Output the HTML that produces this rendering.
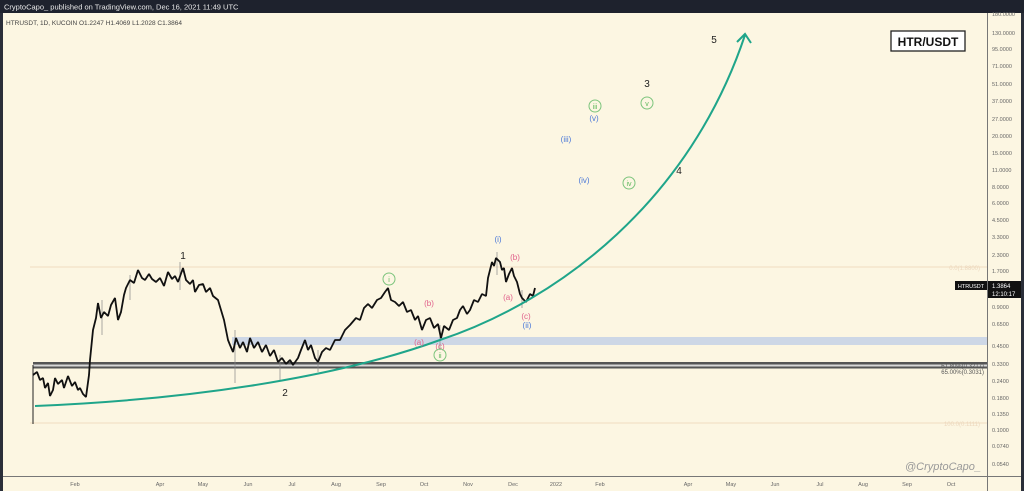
<!DOCTYPE html>
<html><head><meta charset="utf-8"><style>
html,body{margin:0;padding:0;width:1024px;height:491px;overflow:hidden;background:#fcf6e2;}
svg{display:block;font-family:"Liberation Sans",sans-serif;}
</style></head><body>
<svg width="1024" height="491" viewBox="0 0 1024 491" xmlns="http://www.w3.org/2000/svg">
<rect x="0" y="0" width="1024" height="491" fill="#fcf6e2"/>
<rect x="0" y="0" width="1024" height="13" fill="#1e222d"/>
<text x="4" y="9.5" font-size="7.5" fill="#e8e8e8">CryptoCapo_ published on TradingView.com, Dec 16, 2021 11:49 UTC</text>
<rect x="0" y="13" width="3" height="478" fill="#2a2e39"/>
<rect x="1021" y="13" width="3" height="478" fill="#2a2e39"/>
<text x="6" y="25" font-size="6.5" fill="#444">HTRUSDT, 1D, KUCOIN  O1.2247  H1.4069  L1.2028  C1.3864</text>
<line x1="987.5" y1="13" x2="987.5" y2="491" stroke="#777" stroke-width="1"/>
<line x1="3" y1="476.5" x2="1021" y2="476.5" stroke="#777" stroke-width="1"/>
<line x1="30" y1="267" x2="987" y2="267" stroke="#f0dcc0" stroke-width="1"/>
<line x1="30" y1="423" x2="987" y2="423" stroke="#f0dcc0" stroke-width="1"/>
<text x="980" y="270" font-size="6" fill="#ecd7bd" text-anchor="end">0.0(1.8800)</text>
<text x="980" y="426" font-size="6" fill="#ecd7bd" text-anchor="end">100.0(0.1111)</text>
<rect x="232" y="337" width="755" height="8" fill="#cdd7e6"/>
<rect x="33" y="362" width="954" height="2.5" fill="#555"/>
<rect x="33" y="366.5" width="954" height="2" fill="#555"/>
<rect x="33" y="364.5" width="954" height="2" fill="#d8d8d8"/>
<text x="984" y="368" font-size="6" fill="#555" text-anchor="end">61.80%(0.3217)</text>
<text x="984" y="374" font-size="6" fill="#555" text-anchor="end">65.00%(0.3031)</text>
<line x1="33" y1="365" x2="33" y2="424" stroke="#222" stroke-width="1"/>
<g stroke="#888" stroke-width="1" opacity="0.7">
<line x1="235" y1="330" x2="235" y2="383"/><line x1="280" y1="355" x2="280" y2="380"/><line x1="318" y1="350" x2="318" y2="372"/><line x1="102" y1="300" x2="102" y2="335"/><line x1="130" y1="275" x2="130" y2="300"/><line x1="180" y1="262" x2="180" y2="290"/><line x1="440" y1="325" x2="440" y2="350"/><line x1="522" y1="290" x2="522" y2="308"/><line x1="497" y1="252" x2="497" y2="275"/>
</g>
<polyline fill="none" stroke="#111" stroke-width="1.8" stroke-linejoin="bevel" points="33,375 37,372 40,380 43,378 45,388 48,383 50,396 53,390 55,378 58,384 62,380 64,388 68,376 72,386 75,382 78,390 80,388 83,394 86,397 89,375 90,360 93,330 96,318 98,303 101,318 104,312 108,316 111,305 115,298 118,320 121,312 124,295 126,288 130,280 134,283 138,270 142,278 145,280 149,274 152,279 156,282 160,278 164,286 168,272 172,279 175,276 178,282 183,268 186,280 190,284 193,280 195,292 199,285 203,284 206,292 210,288 213,296 218,300 221,310 224,320 228,340 230,345 233,352 236,338 240,348 243,342 247,352 250,338 254,348 258,342 262,352 266,345 270,356 274,350 278,362 282,358 286,364 290,360 293,365 298,358 301,350 305,340 308,350 311,345 315,358 318,362 322,352 326,348 330,350 335,340 340,340 345,330 350,325 356,318 360,320 364,308 368,304 372,308 377,300 381,298 385,292 388,288 391,300 395,302 399,306 403,302 407,312 411,310 415,320 418,316 422,330 426,320 430,318 434,328 438,324 441,338 444,326 449,330 453,320 457,318 460,310 463,306 467,314 470,310 474,300 478,302 482,294 486,296 488,278 490,270 492,262 494,266 496,258 500,262 502,270 504,268 506,282 509,274 512,268 514,276 517,282 520,294 522,298 526,302 530,294 533,296 535,288"/>
<path d="M35,406 C180,400 330,380 440,340 C560,300 690,200 745,35" fill="none" stroke="#1fa58a" stroke-width="2"/>
<polyline points="737,42 745,34 751,43" fill="none" stroke="#1fa58a" stroke-width="2"/>
<g font-size="10" fill="#222" text-anchor="middle">
<text x="183" y="259">1</text><text x="285" y="396">2</text><text x="647" y="87">3</text><text x="679" y="174">4</text><text x="714" y="43">5</text>
</g>
<g font-size="8" fill="#e0608a" text-anchor="middle">
<text x="429" y="306">(b)</text><text x="419" y="345">(a)</text><text x="440" y="349">(c)</text>
<text x="515" y="260">(b)</text><text x="508" y="300">(a)</text><text x="526" y="319">(c)</text>
</g>
<g font-size="8" fill="#4a78d8" text-anchor="middle">
<text x="498" y="242">(i)</text><text x="527" y="328">(ii)</text><text x="566" y="142">(iii)</text><text x="584" y="183">(iv)</text><text x="594" y="121">(v)</text>
</g>
<g font-size="7" fill="#5cb85c" text-anchor="middle">
<circle cx="389" cy="279" r="6" fill="none" stroke="#7cc47c"/><text x="389" y="282">i</text>
<circle cx="440" cy="355" r="6" fill="none" stroke="#7cc47c"/><text x="440" y="358">ii</text>
<circle cx="595" cy="106" r="6" fill="none" stroke="#7cc47c"/><text x="595" y="109">iii</text>
<circle cx="629" cy="183" r="6" fill="none" stroke="#7cc47c"/><text x="629" y="186">iv</text>
<circle cx="647" cy="103" r="6" fill="none" stroke="#7cc47c"/><text x="647" y="106">v</text>
</g>
<rect x="891" y="31" width="74" height="20" fill="#fff" stroke="#222" stroke-width="1.3"/>
<text x="928" y="46" font-size="12" font-weight="bold" fill="#111" text-anchor="middle">HTR/USDT</text>
<text x="981" y="470" font-size="11" font-style="italic" fill="#999" text-anchor="end">@CryptoCapo_</text>
<rect x="955" y="281" width="32" height="9" fill="#111"/>
<text x="971" y="288" font-size="5.5" fill="#fff" text-anchor="middle">HTRUSDT</text>
<rect x="988" y="281" width="33" height="17" fill="#111"/>
<text x="992" y="288" font-size="6" fill="#fff">1.3864</text>
<text x="992" y="296" font-size="6" fill="#fff">12:10:17</text>
<g font-size="5.5" fill="#666">
<text x="992" y="16">180.0000</text><text x="992" y="35">130.0000</text><text x="992" y="51">95.0000</text><text x="992" y="68">71.0000</text><text x="992" y="86">51.0000</text><text x="992" y="103">37.0000</text><text x="992" y="121">27.0000</text><text x="992" y="138">20.0000</text><text x="992" y="155">15.0000</text><text x="992" y="172">11.0000</text><text x="992" y="189">8.0000</text><text x="992" y="205">6.0000</text><text x="992" y="222">4.5000</text><text x="992" y="239">3.3000</text><text x="992" y="257">2.3000</text><text x="992" y="273">1.7000</text><text x="992" y="309">0.9000</text><text x="992" y="326">0.6500</text><text x="992" y="348">0.4500</text><text x="992" y="366">0.3300</text><text x="992" y="383">0.2400</text><text x="992" y="400">0.1800</text><text x="992" y="416">0.1350</text><text x="992" y="432">0.1000</text><text x="992" y="448">0.0740</text><text x="992" y="466">0.0540</text>
</g>
<g font-size="5.5" fill="#666" text-anchor="middle">
<text x="75" y="486">Feb</text><text x="160" y="486">Apr</text><text x="203" y="486">May</text><text x="248" y="486">Jun</text><text x="292" y="486">Jul</text><text x="336" y="486">Aug</text><text x="381" y="486">Sep</text><text x="424" y="486">Oct</text><text x="468" y="486">Nov</text><text x="513" y="486">Dec</text><text x="556" y="486">2022</text><text x="600" y="486">Feb</text><text x="688" y="486">Apr</text><text x="731" y="486">May</text><text x="775" y="486">Jun</text><text x="820" y="486">Jul</text><text x="863" y="486">Aug</text><text x="907" y="486">Sep</text><text x="951" y="486">Oct</text>
</g>
</svg>
</body></html>
